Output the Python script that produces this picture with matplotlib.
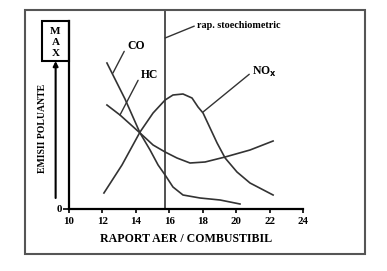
import matplotlib
matplotlib.use("Agg")
import matplotlib.pyplot as plt
from matplotlib.patches import Rectangle

# ---- data (air/fuel ratio vs relative emissions, arbitrary units 0..100) ----
co_x = [12.27, 13.35, 14.25, 14.85, 15.33, 15.75, 16.22, 16.82, 17.84, 19.04, 20.23]
co_y = [73, 55, 38, 29.5, 22, 17, 11, 7, 5.5, 4.5, 2.5]

hc_x = [12.27, 13.05, 14.25, 15.03, 15.75, 16.46, 17.24, 18.14, 19.34, 20.83, 22.21]
hc_y = [52, 47, 38, 32, 28.5, 25.5, 23, 23.5, 26, 29.5, 34]

nox_x = [12.09, 13.17, 14.25, 15.03, 15.75, 16.22, 16.82, 17.36, 17.72, 18.02,
         18.44, 18.86, 19.34, 20.05, 20.83, 22.21]
nox_y = [8, 22, 38.5, 48, 54.5, 57, 57.5, 55.5, 51, 48, 40.5, 33, 25.5, 18.5,
         13, 7]

stoich_x = 15.75
x_ticks = [10, 12, 14, 16, 18, 20, 22, 24]
x_tick_labels = ["10", "12", "14", "16", "18", "20", "22", "24"]
y_ticks = [0]
y_tick_labels = ["0"]

W, H = 387, 271
fig = plt.figure(figsize=(W / 100, H / 100), dpi=100)
serif = ["Liberation Serif", "DejaVu Serif"]

# outer frame
fig.patches.append(Rectangle((25 / W, 1 - 254 / H), 340 / W, 244 / H,
                             transform=fig.transFigure, fill=False,
                             edgecolor="#555555", linewidth=1.5))

ax = fig.add_axes([69 / W, 1 - 209 / H, 234 / W, 199 / H])
ax.set_xlim(10, 24)
ax.set_ylim(0, 99.5)

lc = "#333333"
ax.plot(co_x, co_y, color=lc, lw=1.2)
ax.plot(hc_x, hc_y, color=lc, lw=1.2)
ax.plot(nox_x, nox_y, color=lc, lw=1.2)
ax.axvline(stoich_x, color=lc, lw=1.2)

# spines
for s in ["top", "right"]:
    ax.spines[s].set_visible(False)
ax.spines["left"].set_bounds(0, 94)
ax.spines["left"].set_linewidth(1.6)
ax.spines["bottom"].set_linewidth(1.6)

ax.set_xticks(x_ticks)
ax.set_xticklabels(x_tick_labels, fontfamily=serif, fontweight="bold", fontsize=7.8)
ax.set_yticks(y_ticks)
ax.set_yticklabels(y_tick_labels, fontfamily=serif, fontweight="bold", fontsize=7.8)
ax.tick_params(axis="x", direction="out", length=3, width=1.2, pad=2.5)
ax.tick_params(axis="y", direction="out", length=4, width=1.2, pad=1)

ax.set_xlabel("RAPORT AER / COMBUSTIBIL", fontfamily=serif, fontweight="bold",
              fontsize=8.6, labelpad=5)

# annotations with leader lines
def leader(text, xy, xytext, fs=8.4):
    ax.annotate(text, xy=xy, xytext=xytext, fontfamily=serif, fontweight="bold",
                fontsize=fs, ha="left", va="center",
                arrowprops=dict(arrowstyle="-", color=lc, lw=1.0,
                                shrinkA=0, shrinkB=0, relpos=(0, 0.5)))

leader("CO", (12.63, 68), (13.47, 81.5))
leader("HC", (13.05, 47), (14.3, 67))
leader("NO$_\\mathbf{x}$", (18.02, 48.5), (20.95, 68.5))
leader("rap. stoechiometric", (stoich_x, 85.5), (17.66, 92), fs=7.3)

# MAX box, arrow and y label (outside the plotting area)
ax.add_patch(Rectangle((8.38, 74), 10 - 8.38, 94 - 74, fill=False,
                       edgecolor="black", linewidth=1.5, clip_on=False))
for i, ch in enumerate(["M", "A", "X"]):
    ax.text(9.19, 88.5 - i * 5.3, ch, fontfamily=serif, fontweight="bold",
            fontsize=8.0, ha="center", va="center", clip_on=False)
ax.annotate("", xy=(9.2, 74), xytext=(9.2, 5.5),
            arrowprops=dict(arrowstyle="-|>", color="black", lw=1.5,
                            mutation_scale=7, shrinkA=0, shrinkB=0),
            annotation_clip=False)
ax.text(8.44, 40.5, "EMISII POLUANTE", rotation=90, fontfamily=serif,
        fontweight="bold", fontsize=7.0, ha="center", va="center", clip_on=False)

fig.savefig("out.png", dpi=100)
